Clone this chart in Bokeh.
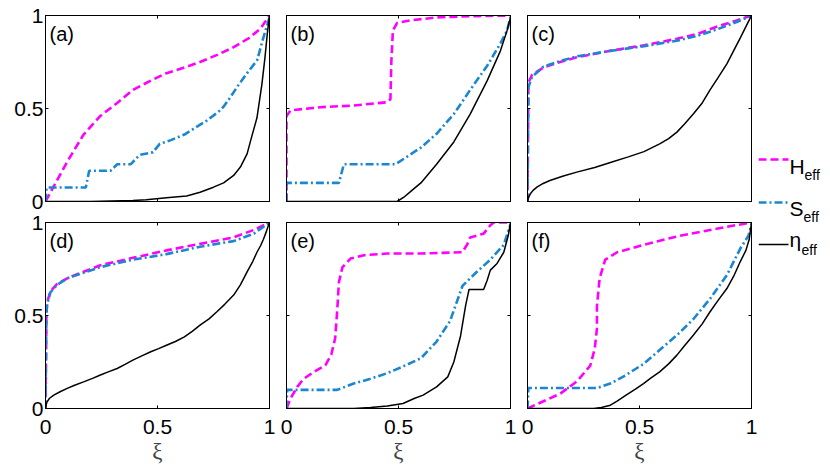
from bokeh.plotting import figure
from bokeh.models import Range1d, LinearAxis, FixedTicker, Label, CustomLabelingPolicy
from bokeh.layouts import row, column
from bokeh.embed import file_html
from bokeh.resources import INLINE
from bokeh.core.properties import value

# ---------------- data ----------------
ticks = [0, 0.5, 1]
tick_labels = {0: "0", 0.5: "0.5", 1: "1"}
panel_labels = ["(a)", "(b)", "(c)", "(d)", "(e)", "(f)"]
series_names = ["H", "S", "\u03b7"]
series_sub = "eff"
x_label = "\u03be"

a_H_x = [0, 0.05, 0.10, 0.17, 0.245, 0.32, 0.39, 0.47, 0.54, 0.62, 0.69, 0.77, 0.84, 0.91, 0.96, 1.0]
a_H_y = [0, 0.11, 0.22, 0.36, 0.46, 0.53, 0.60, 0.65, 0.69, 0.72, 0.75, 0.79, 0.83, 0.88, 0.93, 1.0]
a_S_x = [0, 0.005, 0.18, 0.195, 0.29, 0.32, 0.38, 0.42, 0.48, 0.51, 0.56, 0.62, 0.66, 0.72, 0.78, 0.795, 0.825, 0.855, 0.90, 0.945, 0.97, 1.0]
a_S_y = [0, 0.075, 0.075, 0.165, 0.165, 0.20, 0.20, 0.25, 0.265, 0.31, 0.33, 0.36, 0.39, 0.435, 0.49, 0.51, 0.56, 0.615, 0.69, 0.76, 0.87, 0.99]
a_eta_x = [0, 0.2, 0.39, 0.45, 0.54, 0.63, 0.69, 0.75, 0.795, 0.84, 0.87, 0.90, 0.92, 0.944, 0.966, 0.98, 0.99, 1.0]
a_eta_y = [0, 0.0, 0.005, 0.01, 0.02, 0.03, 0.05, 0.077, 0.10, 0.14, 0.185, 0.256, 0.346, 0.45, 0.63, 0.776, 0.90, 1.0]

b_H_x = [0, 0, 0.018, 0.15, 0.30, 0.45, 0.464, 0.468, 0.475, 0.494, 0.55, 0.67, 0.82, 1.0]
b_H_y = [0, 0.46, 0.49, 0.507, 0.516, 0.534, 0.55, 0.75, 0.92, 0.96, 0.973, 0.99, 0.996, 1.0]
b_S_x = [0, 0, 0.234, 0.256, 0.487, 0.524, 0.60, 0.67, 0.747, 0.82, 0.896, 0.955, 0.985, 1.0]
b_S_y = [0, 0.10, 0.10, 0.20, 0.20, 0.23, 0.29, 0.364, 0.47, 0.60, 0.73, 0.85, 0.92, 0.99]
b_eta_x = [0, 0.494, 0.524, 0.56, 0.60, 0.67, 0.747, 0.82, 0.896, 0.955, 0.985, 1.0]
b_eta_y = [0, 0, 0.023, 0.06, 0.10, 0.20, 0.32, 0.47, 0.65, 0.81, 0.92, 0.99]

c_H_x = [0, 0.004, 0.02, 0.071, 0.146, 0.22, 0.37, 0.52, 0.667, 0.756, 0.845, 0.934, 1.0]
c_H_y = [0, 0.64, 0.68, 0.72, 0.75, 0.776, 0.81, 0.84, 0.875, 0.90, 0.94, 0.973, 1.0]
c_S_x = [0, 0.004, 0.02, 0.071, 0.146, 0.22, 0.37, 0.52, 0.667, 0.756, 0.845, 0.934, 1.0]
c_S_y = [0, 0.615, 0.67, 0.725, 0.755, 0.78, 0.81, 0.835, 0.865, 0.89, 0.925, 0.965, 1.0]
c_eta_x = [0, 0.005, 0.012, 0.025, 0.042, 0.07, 0.10, 0.16, 0.22, 0.30, 0.37, 0.45, 0.52, 0.59, 0.63, 0.667, 0.70, 0.74, 0.78, 0.815, 0.85, 0.89, 0.92, 0.95, 0.975, 1.0]
c_eta_y = [0, 0.022, 0.04, 0.06, 0.077, 0.097, 0.113, 0.137, 0.158, 0.183, 0.21, 0.24, 0.268, 0.31, 0.338, 0.373, 0.415, 0.47, 0.53, 0.60, 0.665, 0.74, 0.81, 0.88, 0.94, 1.0]

d_H_x = [0, 0.004, 0.007, 0.022, 0.052, 0.097, 0.17, 0.245, 0.39, 0.54, 0.69, 0.84, 0.93, 1.0]
d_H_y = [0, 0.50, 0.57, 0.63, 0.67, 0.70, 0.735, 0.77, 0.81, 0.85, 0.885, 0.92, 0.96, 1.0]
d_S_x = [0, 0.004, 0.007, 0.022, 0.052, 0.097, 0.17, 0.245, 0.39, 0.54, 0.69, 0.84, 0.93, 1.0]
d_S_y = [0, 0.49, 0.56, 0.625, 0.665, 0.70, 0.73, 0.76, 0.80, 0.83, 0.87, 0.90, 0.94, 1.0]
d_eta_x = [0, 0.003, 0.007, 0.018, 0.037, 0.065, 0.097, 0.13, 0.17, 0.21, 0.245, 0.28, 0.32, 0.355, 0.39, 0.43, 0.47, 0.505, 0.54, 0.58, 0.62, 0.655, 0.69, 0.73, 0.765, 0.80, 0.84, 0.87, 0.90, 0.925, 0.944, 0.96, 0.973, 0.987, 1.0]
d_eta_y = [0, 0.02, 0.036, 0.055, 0.072, 0.09, 0.108, 0.125, 0.143, 0.162, 0.18, 0.197, 0.215, 0.237, 0.26, 0.283, 0.305, 0.322, 0.34, 0.36, 0.385, 0.415, 0.448, 0.482, 0.52, 0.56, 0.61, 0.665, 0.735, 0.79, 0.84, 0.875, 0.91, 0.955, 1.0]

e_H_x = [0, 0.018, 0.048, 0.077, 0.122, 0.174, 0.20, 0.217, 0.226, 0.234, 0.25, 0.286, 0.345, 0.45, 0.60, 0.784, 0.806, 0.82, 0.88, 0.91, 0.925, 1.0]
e_H_y = [0, 0.054, 0.116, 0.16, 0.197, 0.233, 0.29, 0.376, 0.52, 0.68, 0.76, 0.806, 0.824, 0.833, 0.833, 0.84, 0.88, 0.92, 0.94, 0.985, 1.0, 1.0]
e_S_x = [0, 0.003, 0.226, 0.30, 0.375, 0.45, 0.52, 0.60, 0.67, 0.73, 0.786, 0.85, 0.91, 0.97, 1.0]
e_S_y = [0, 0.10, 0.10, 0.134, 0.16, 0.19, 0.226, 0.27, 0.36, 0.47, 0.66, 0.735, 0.80, 0.88, 0.99]
e_eta_x = [0, 0.30, 0.375, 0.45, 0.52, 0.57, 0.61, 0.67, 0.72, 0.747, 0.777, 0.80, 0.815, 0.88, 0.896, 0.91, 0.94, 0.97, 0.99, 1.0]
e_eta_y = [0, 0.0, 0.005, 0.014, 0.027, 0.054, 0.072, 0.116, 0.17, 0.25, 0.39, 0.556, 0.64, 0.64, 0.69, 0.744, 0.78, 0.84, 0.93, 1.0]

f_H_x = [0, 0.146, 0.22, 0.28, 0.30, 0.31, 0.31, 0.322, 0.347, 0.40, 0.52, 0.667, 0.88, 1.0]
f_H_y = [0, 0.08, 0.145, 0.23, 0.32, 0.43, 0.55, 0.70, 0.80, 0.84, 0.88, 0.925, 0.975, 1.0]
f_S_x = [0, 0.004, 0.31, 0.37, 0.44, 0.518, 0.59, 0.667, 0.74, 0.815, 0.89, 0.95, 0.987, 1.0]
f_S_y = [0, 0.11, 0.11, 0.134, 0.18, 0.24, 0.315, 0.394, 0.48, 0.59, 0.717, 0.86, 0.93, 0.995]
f_eta_x = [0, 0.295, 0.33, 0.37, 0.40, 0.44, 0.48, 0.518, 0.55, 0.59, 0.63, 0.667, 0.70, 0.74, 0.78, 0.815, 0.85, 0.89, 0.92, 0.95, 0.975, 0.99, 1.0]
f_eta_y = [0, 0.0, 0.005, 0.018, 0.04, 0.072, 0.103, 0.134, 0.163, 0.197, 0.24, 0.287, 0.336, 0.394, 0.455, 0.52, 0.58, 0.645, 0.71, 0.79, 0.85, 0.91, 1.0]

panels = [
    [(a_H_x, a_H_y), (a_S_x, a_S_y), (a_eta_x, a_eta_y)],
    [(b_H_x, b_H_y), (b_S_x, b_S_y), (b_eta_x, b_eta_y)],
    [(c_H_x, c_H_y), (c_S_x, c_S_y), (c_eta_x, c_eta_y)],
    [(d_H_x, d_H_y), (d_S_x, d_S_y), (d_eta_x, d_eta_y)],
    [(e_H_x, e_H_y), (e_S_x, e_S_y), (e_eta_x, e_eta_y)],
    [(f_H_x, f_H_y), (f_S_x, f_S_y), (f_eta_x, f_eta_y)],
]

# ---------------- styles ----------------
COLORS = ["#ff00ff", "#1b87d0", "#000000"]
DASHES = ["8 4", "8 3 2 3", "solid"]
WIDTHS = [2.6, 2.6, 1.5]
SANS = "Liberation Sans"
SERIF = "Liberation Serif"
FW, FH = 224, 186

HIDE_LABELS = "for (const i of Array.from(indices)) indices.unset(i); return indices"


def style_axis(ax, show):
    ax.ticker = FixedTicker(ticks=ticks)
    ax.major_tick_in = 3
    ax.major_tick_out = 0
    ax.minor_tick_line_color = None
    ax.axis_line_color = "black"
    ax.major_tick_line_color = "black"
    if show:
        ax.major_label_overrides = dict(tick_labels)
        ax.major_label_text_font = SANS
        ax.major_label_text_font_size = "21px"
        ax.major_label_text_color = "black"
    else:
        ax.major_label_text_font_size = "0px"
        ax.major_label_standoff = 0
        ax.major_label_policy = CustomLabelingPolicy(code=HIDE_LABELS)


def make_panel(idx, bl, br, bt, bb, show_x, show_y):
    p = figure(frame_width=FW, frame_height=FH,
               x_range=Range1d(0, 1), y_range=Range1d(0, 1),
               output_backend="svg", toolbar_location=None,
               min_border_left=bl, min_border_right=br,
               min_border_top=bt, min_border_bottom=bb,
               background_fill_color="white", border_fill_color="white")
    p.grid.visible = False
    p.outline_line_color = "black"
    p.outline_line_alpha = 1.0
    p.outline_line_width = 1
    style_axis(p.xaxis[0], show_x)
    style_axis(p.yaxis[0], show_y)
    if show_y:
        p.yaxis[0].major_label_standoff = 2
    if show_x:
        p.xaxis[0].major_label_standoff = 11
        p.xaxis[0].axis_label = x_label
        p.xaxis[0].axis_label_text_font = SERIF
        p.xaxis[0].axis_label_text_font_size = "23px"
        p.xaxis[0].axis_label_text_font_style = "normal"
        p.xaxis[0].axis_label_standoff = 2
    top = LinearAxis()
    right = LinearAxis()
    style_axis(top, False)
    style_axis(right, False)
    p.add_layout(top, "above")
    p.add_layout(right, "right")
    for k, (xs, ys) in enumerate(panels[idx]):
        p.line(xs, ys, line_color=COLORS[k], line_dash=DASHES[k],
               line_width=WIDTHS[k])
    p.add_layout(Label(x=0, y=1, x_offset=4, y_offset=-7, text=panel_labels[idx],
                       text_baseline="top", text_align="left",
                       text_font=SANS, text_font_size="20px", text_color="black"))
    return p


pa = make_panel(0, 45, 8, 15, 10, False, True)
pb = make_panel(1, 9, 8, 15, 10, False, False)
pc = make_panel(2, 9, 7, 15, 10, False, False)
pd = make_panel(3, 45, 8, 11, 58, True, True)
pe = make_panel(4, 9, 8, 11, 58, True, False)
pf = make_panel(5, 9, 7, 11, 58, True, False)

# ---------------- legend ----------------
LW, LH = 66, 466
leg = figure(width=LW, height=LH, x_range=Range1d(0, LW), y_range=Range1d(LH, 0),
             output_backend="svg", toolbar_location=None, min_border=0,
             x_axis_location=None, y_axis_location=None,
             background_fill_color="white", border_fill_color="white")
leg.grid.visible = False
leg.outline_line_color = None

line_y = [159, 202, 244]
main_base = [166, 208, 239]
sub_base = [174, 216, 249]
sub_x = [46, 45, 43]
for k in range(3):
    leg.line([0, 30], [line_y[k], line_y[k]], line_color=COLORS[k],
             line_dash=DASHES[k], line_width=WIDTHS[k])
    leg.text(x=[31], y=[main_base[k]], text=[series_names[k]],
             text_font=value(SANS), text_font_size=value("21px"),
             text_baseline="alphabetic", text_align="left", text_color="black")
    leg.text(x=[sub_x[k]], y=[sub_base[k]], text=[series_sub],
             text_font=value(SANS), text_font_size=value("14px"),
             text_baseline="alphabetic", text_align="left", text_color="black")

grid = column(row(pa, pb, pc), row(pd, pe, pf))
layout = row(grid, leg)

open("out.html", "w").write(file_html(layout, INLINE))
